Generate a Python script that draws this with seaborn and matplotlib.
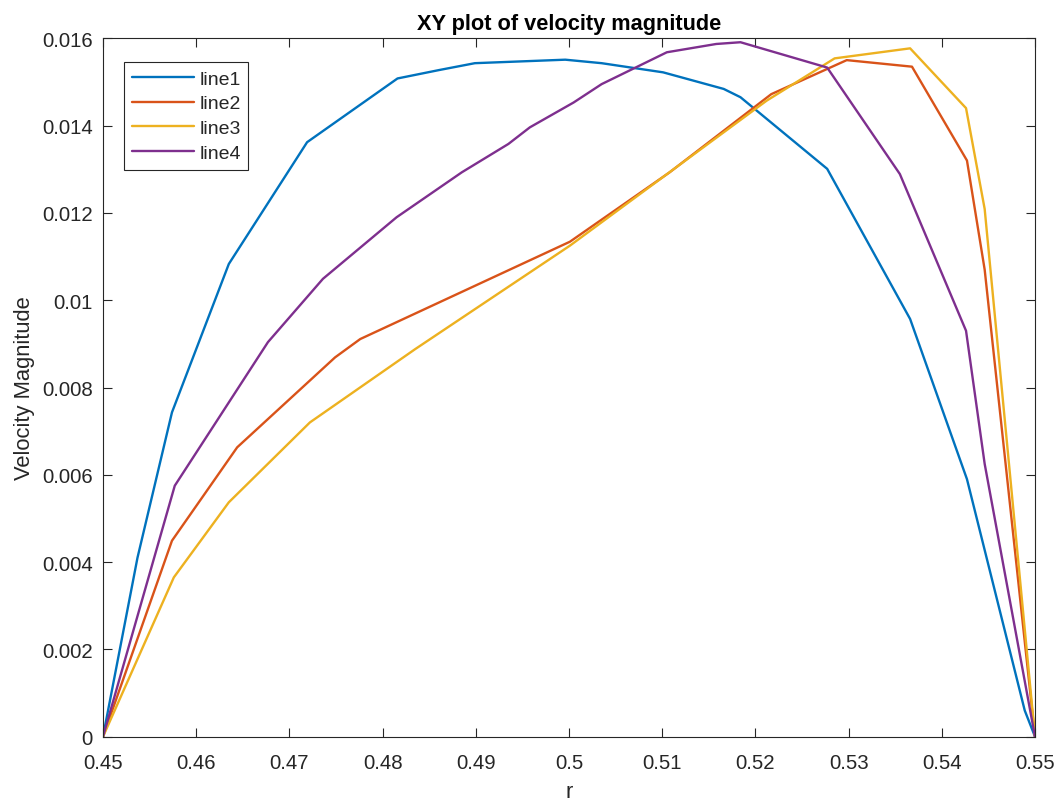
import numpy as np
import pandas as pd
import matplotlib
matplotlib.use("Agg")
import matplotlib.pyplot as plt
import seaborn as sns

# ---- data ----
line1_r = [0.45, 0.4537, 0.4574, 0.4635, 0.4719, 0.4816, 0.4860, 0.4899, 0.4996, 0.5035,
           0.5101, 0.5166, 0.5184, 0.5277, 0.5366, 0.5427, 0.5489, 0.55]
line1_v = [0, 0.0041, 0.00743, 0.01083, 0.01362, 0.01508, 0.01527, 0.01543, 0.01551, 0.01543,
           0.01522, 0.01484, 0.01465, 0.01301, 0.00957, 0.0059, 0.0006, 0]

line2_r = [0.45, 0.4574, 0.4644, 0.4749, 0.4776, 0.5001, 0.5108, 0.5217, 0.5298, 0.5368,
           0.5427, 0.5446, 0.55]
line2_v = [0, 0.00449, 0.00663, 0.00869, 0.00911, 0.01134, 0.01293, 0.01472, 0.0155, 0.01535,
           0.0132, 0.0107, 0]

line3_r = [0.45, 0.4576, 0.4635, 0.4722, 0.4835, 0.5001, 0.5212, 0.5285, 0.5366, 0.5426,
           0.5446, 0.55]
line3_v = [0, 0.00365, 0.00537, 0.0072, 0.00888, 0.01125, 0.01457, 0.01554, 0.01577, 0.0144,
           0.01209, 0]

line4_r = [0.45, 0.4577, 0.4677, 0.4736, 0.4815, 0.4885, 0.4935, 0.4958, 0.5005, 0.5035,
           0.5105, 0.5158, 0.5184, 0.5277, 0.5355, 0.5426, 0.5446, 0.55]
line4_v = [0, 0.00575, 0.00904, 0.01049, 0.0119, 0.01293, 0.01358, 0.01396, 0.01453, 0.01495,
           0.01568, 0.01587, 0.01591, 0.01533, 0.01289, 0.0093, 0.00625, 0]

series_names = ["line1", "line2", "line3", "line4"]
series_colors = ["#0072BD", "#D95319", "#EDB120", "#7E2F8E"]

xtick_values = [0.45, 0.46, 0.47, 0.48, 0.49, 0.5, 0.51, 0.52, 0.53, 0.54, 0.55]
xtick_labels = ["0.45", "0.46", "0.47", "0.48", "0.49", "0.5", "0.51", "0.52", "0.53", "0.54", "0.55"]
ytick_values = [0, 0.002, 0.004, 0.006, 0.008, 0.01, 0.012, 0.014, 0.016]
ytick_labels = ["0", "0.002", "0.004", "0.006", "0.008", "0.01", "0.012", "0.014", "0.016"]

title_text = "XY plot of velocity magnitude"
xlabel_text = "r"
ylabel_text = "Velocity Magnitude"

# ---- build long-form frame ----
frames = []
for name, r, v in zip(series_names, [line1_r, line2_r, line3_r, line4_r],
                      [line1_v, line2_v, line3_v, line4_v]):
    frames.append(pd.DataFrame({"r": r, "v": v, "line": name}))
df = pd.concat(frames, ignore_index=True)

sns.set_style("white")
plt.rcParams["font.family"] = ["Liberation Sans", "DejaVu Sans"]

W, H = 1061, 803
fig = plt.figure(figsize=(W / 100, H / 100), dpi=100)
left, right, top, bottom = 103, 1035, 39.3, 737.7
ax = fig.add_axes([left / W, 1 - bottom / H, (right - left) / W, (bottom - top) / H])

sns.lineplot(data=df, x="r", y="v", hue="line", hue_order=series_names,
             palette=dict(zip(series_names, series_colors)), sort=False,
             estimator=None, linewidth=1.7, ax=ax)

axcol = "#262626"
ax.set_xlim(0.45, 0.55)
ax.set_ylim(0, 0.016)
ax.set_xticks(xtick_values)
ax.set_xticklabels(xtick_labels)
ax.set_yticks(ytick_values)
ax.set_yticklabels(ytick_labels)
ax.tick_params(direction="in", length=6.7, width=0.8, colors=axcol, labelsize=14.7,
               top=True, right=True, bottom=True, left=True)
ax.tick_params(axis="x", pad=12)
ax.tick_params(axis="y", pad=7.5)
for s in ax.spines.values():
    s.set_color(axcol)
    s.set_linewidth(0.8)
    s.set_visible(True)

ax.set_title(title_text, fontsize=15.7, fontweight="bold", color="black", pad=7)
ax.set_xlabel(xlabel_text, fontsize=15.8, color=axcol, labelpad=6)
ax.set_ylabel(ylabel_text, fontsize=15.8, color=axcol, labelpad=5)

handles, labels = ax.get_legend_handles_labels()
leg = ax.legend(handles, labels, loc="upper left",
                bbox_to_anchor=(124.3 / W, 1 - 63.3 / H), bbox_transform=fig.transFigure,
                borderaxespad=0, fontsize=14, handlelength=3.2, handletextpad=0.25,
                labelspacing=0.37, borderpad=0.4, frameon=True, fancybox=False,
                framealpha=1, edgecolor=axcol)
leg.get_frame().set_linewidth(0.8)
for t in leg.get_texts():
    t.set_color(axcol)
for l in leg.get_lines():
    l.set_linewidth(1.7)

fig.savefig("out.png", dpi=100)
